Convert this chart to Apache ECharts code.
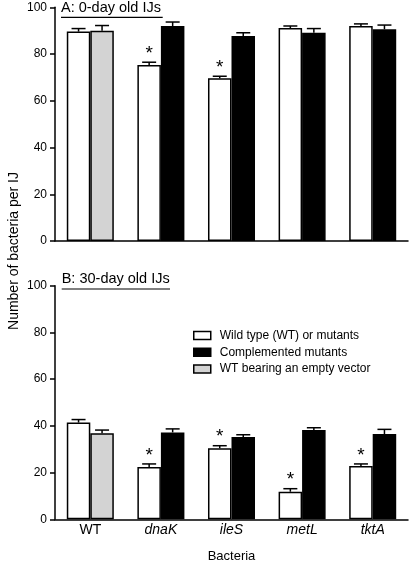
<!DOCTYPE html>
<html>
<head>
<meta charset="utf-8">
<script src="https://cdn.jsdelivr.net/npm/echarts@6/dist/echarts.min.js"></script>
<style>
html,body{margin:0;padding:0;background:#fff;}
#chart{width:414px;height:565px;}
</style>
</head>
<body>
<div id="chart"></div>
<script>
const categories = ['WT', 'dnaK', 'ileS', 'metL', 'tktA'];
const italicCats = [false, true, true, true, true];
const yTicks = [0, 20, 40, 60, 80, 100];

// Panel A: 0-day old IJs
const aWild = [89.6, 75.3, 69.6, 91.1, 92.0];
const aWildErr = [1.3, 1.2, 0.9, 0.9, 0.9];
const aComp = [null, 92.0, 87.7, 89.1, 90.6];
const aCompErr = [null, 1.7, 1.4, 1.8, 1.8];
const aVector = [90.0, null, null, null, null];
const aVectorErr = [2.2, null, null, null, null];
const aSig = [0, 1, 1, 0, 0];

// Panel B: 30-day old IJs
const bWild = [41.4, 22.4, 30.4, 11.8, 22.8];
const bWildErr = [1.3, 1.3, 1.1, 1.3, 0.9];
const bComp = [null, 37.2, 35.2, 38.2, 36.5];
const bCompErr = [null, 1.5, 1.0, 1.0, 2.0];
const bVector = [36.8, null, null, null, null];
const bVectorErr = [1.4, null, null, null, null];
const bSig = [0, 1, 1, 1, 1];

const names = ['Wild type (WT) or mutants', 'Complemented mutants', 'WT bearing an empty vector'];
const panelTitles = ['A: 0-day old IJs', 'B: 30-day old IJs'];

const FONT = 'Liberation Sans, Arial, sans-serif';
const BAR_FRAC = 0.333;

const chart = echarts.init(document.getElementById('chart'), null, {renderer: 'canvas'});

function toData(arr) { return arr.map(v => v == null ? '-' : v); }

function errData(wild, wildErr, comp, compErr, vec, vecErr, sig) {
  const out = [];
  for (let i = 0; i < categories.length; i++) {
    out.push([i, wild[i], wildErr[i], 0, sig[i]]);
    if (comp[i] != null) out.push([i, comp[i], compErr[i], 1, 0]);
    if (vec[i] != null) out.push([i, vec[i], vecErr[i], 1, 0]);
  }
  return out;
}

function renderErr(params, api) {
  const cat = api.value(0), val = api.value(1), err = api.value(2), side = api.value(3), sig = api.value(4);
  const base = api.coord([cat, val]);
  const top = api.coord([cat, val + err]);
  const catW = api.size([1, 0])[0];
  const bw = catW * BAR_FRAC;
  const x = base[0] + (side === 0 ? -bw / 2 : bw / 2);
  const style = {stroke: '#000', lineWidth: 1.5};
  const children = [
    {type: 'line', shape: {x1: x, y1: base[1], x2: x, y2: top[1]}, style: style},
    {type: 'line', shape: {x1: x - 7, y1: top[1], x2: x + 7, y2: top[1]}, style: style}
  ];
  if (sig) {
    children.push({type: 'text', style: {text: '*', x: x, y: top[1] + 1, align: 'center', verticalAlign: 'bottom', fontSize: 19, fontFamily: FONT, fill: '#000'}});
  }
  return {type: 'group', children: children};
}

const grids = [
  {left: 55, right: 6, top: 7.3, height: 233.7},
  {left: 55, right: 6, top: 285.7, height: 233.6}
];

function xAxis(idx, showLabels) {
  return {
    type: 'category', gridIndex: idx, data: categories,
    axisLine: {lineStyle: {color: '#000', width: 1.5}},
    axisTick: {alignWithLabel: true, length: 5, lineStyle: {color: '#000', width: 1.5}},
    axisLabel: {
      show: showLabels, margin: 4, fontSize: 14, fontFamily: FONT, color: '#000',
      formatter: function (v) { const i = categories.indexOf(v); return italicCats[i] ? '{it|' + v + '}' : '{n|' + v + '}'; },
      rich: {it: {fontStyle: 'italic', fontSize: 14, fontFamily: FONT, color: '#000'}, n: {fontSize: 14, fontFamily: FONT, color: '#000'}}
    },
    name: showLabels ? 'Bacteria' : '',
    nameLocation: 'middle', nameGap: 31,
    nameTextStyle: {fontSize: 13, fontFamily: FONT, color: '#000'}
  };
}

function yAxis(idx) {
  return {
    type: 'value', gridIndex: idx, min: yTicks[0], max: yTicks[yTicks.length - 1], interval: 20,
    axisLine: {show: true, lineStyle: {color: '#000', width: 1.5}},
    axisTick: {show: true, length: 5, lineStyle: {color: '#000', width: 1.5}},
    splitLine: {show: false},
    axisLabel: {margin: 8, fontSize: 12, fontFamily: FONT, color: '#000'}
  };
}

const barBorder = {borderColor: '#000', borderWidth: 1.5};

function panelSeries(idx, wild, comp, vec, err) {
  return [
    {name: names[0], type: 'bar', xAxisIndex: idx, yAxisIndex: idx, data: toData(wild),
     barWidth: (BAR_FRAC * 100) + '%', barGap: '0%', itemStyle: Object.assign({color: '#fff'}, barBorder)},
    {name: names[1], type: 'bar', xAxisIndex: idx, yAxisIndex: idx, data: toData(comp), stack: 's' + idx,
     barWidth: (BAR_FRAC * 100) + '%', barGap: '0%', itemStyle: Object.assign({color: '#000'}, barBorder)},
    {name: names[2], type: 'bar', xAxisIndex: idx, yAxisIndex: idx, data: toData(vec), stack: 's' + idx,
     barWidth: (BAR_FRAC * 100) + '%', barGap: '0%', itemStyle: Object.assign({color: '#d3d3d3'}, barBorder)},
    {type: 'custom', xAxisIndex: idx, yAxisIndex: idx, data: err, renderItem: renderErr, z: 10, silent: true}
  ];
}

const series = [].concat(
  panelSeries(0, aWild, aComp, aVector, errData(aWild, aWildErr, aComp, aCompErr, aVector, aVectorErr, aSig)),
  panelSeries(1, bWild, bComp, bVector, errData(bWild, bWildErr, bComp, bCompErr, bVector, bVectorErr, bSig))
);

const titleGraphics = [];
[[61, 0, 162.7, 17.3], [61.7, 271.5, 170, 289]].forEach((p, i) => {
  titleGraphics.push({type: 'text', left: p[0], top: p[1], style: {text: panelTitles[i], fontSize: 14.5, fontFamily: FONT, fill: '#000'}});
  titleGraphics.push({type: 'line', shape: {x1: p[0], y1: p[3], x2: p[2], y2: p[3]}, style: {stroke: '#000', lineWidth: 1.2}});
});

chart.setOption({
  animation: false,
  backgroundColor: '#fff',
  grid: grids,
  xAxis: [xAxis(0, false), xAxis(1, true)],
  yAxis: [yAxis(0), yAxis(1)],
  legend: {
    orient: 'vertical', left: 193, top: 328.5, padding: 0, selectedMode: false,
    itemWidth: 17, itemHeight: 8, itemGap: 2.8,
    data: names.map(n => ({name: n, icon: 'rect'})),
    itemStyle: {borderColor: '#000', borderWidth: 1.5},
    textStyle: {fontSize: 12, fontFamily: FONT, color: '#000', lineHeight: 14, padding: [0, 0, 0, 4]}
  },
  graphic: titleGraphics.concat([
    {type: 'text', x: 14, y: 251, rotation: Math.PI / 2,
     style: {text: 'Number of bacteria per IJ', fontSize: 14, fontFamily: FONT, fill: '#000', align: 'center', verticalAlign: 'middle'}}
  ]),
  series: series
});
</script>
</body>
</html>
